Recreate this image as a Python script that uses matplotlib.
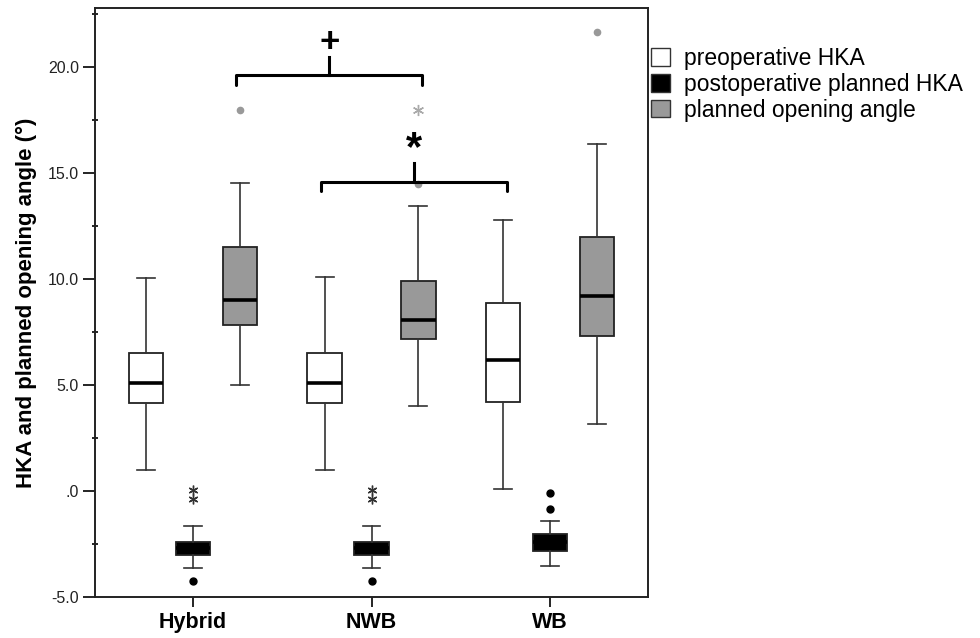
import numpy as np
import matplotlib
matplotlib.use("Agg")
import matplotlib.pyplot as plt
from matplotlib.patches import Patch

plt.rcParams['font.family'] = ['Liberation Sans', 'DejaVu Sans']

groups = ["Hybrid", "NWB", "WB"]
series = ["preoperative HKA", "postoperative planned HKA", "planned opening angle"]

# box stats: whisker low, q1, median, q3, whisker high
pre_lo = [1.0, 1.0, 0.08]
pre_q1 = [4.15, 4.15, 4.2]
pre_med = [5.1, 5.1, 6.2]
pre_q3 = [6.53, 6.53, 8.88]
pre_hi = [10.07, 10.08, 12.8]

post_lo = [-3.62, -3.62, -3.52]
post_q1 = [-3.0, -3.0, -2.83]
post_med = [-2.7, -2.7, -2.4]
post_q3 = [-2.41, -2.41, -2.01]
post_hi = [-1.64, -1.64, -1.4]

open_lo = [5.0, 4.0, 3.18]
open_q1 = [7.85, 7.2, 7.33]
open_med = [9.0, 8.07, 9.21]
open_q3 = [11.5, 9.91, 12.0]
open_hi = [14.55, 13.46, 16.38]

# outliers (circles) and extremes (stars) per group
post_out = [[-4.23], [-4.23], [-0.11, -0.83]]
post_ext = [[0.07, -0.38], [0.07, -0.38], []]
open_out = [[18.0], [14.5], [21.68]]
open_ext = [[], [18.0], []]

# significance brackets: (from series, from group, to series, to group, height, symbol, size)
brackets = [(2, 0, 2, 1, 19.62, "+", 25), (0, 1, 0, 2, 14.59, "*", 30)]

offsets = [-0.263, 0.0, 0.263]
box_w = 0.193
fills = ["white", "black", "#999999"]

fig = plt.figure(figsize=(9.8, 6.38), dpi=100)
ax = fig.add_axes([95/980, 1-597/638, (648-95)/980, (597-8)/638])

def stats(lo, q1, med, q3, hi):
    return [dict(whislo=a, q1=b, med=c, q3=d, whishi=e, fliers=[])
            for a, b, c, d, e in zip(lo, q1, med, q3, hi)]

all_stats = [stats(pre_lo, pre_q1, pre_med, pre_q3, pre_hi),
             stats(post_lo, post_q1, post_med, post_q3, post_hi),
             stats(open_lo, open_q1, open_med, open_q3, open_hi)]

gx = np.arange(len(groups))
for i, st in enumerate(all_stats):
    ax.bxp(st, positions=gx + offsets[i], widths=box_w, patch_artist=True,
           showfliers=False, capwidths=0.1,
           boxprops=dict(facecolor=fills[i], edgecolor="#222222", linewidth=1.3),
           medianprops=dict(color="black", linewidth=2.6),
           whiskerprops=dict(color="#333333", linewidth=1.2),
           capprops=dict(color="#333333", linewidth=1.2))

for g in range(len(groups)):
    x = gx[g] + offsets[1]
    ax.plot([x]*len(post_out[g]), post_out[g], 'o', color="black", ms=5)
    ax.plot([x]*len(post_ext[g]), post_ext[g], marker=(6, 2, 0), ls='none',
            color="#333333", ms=7, mew=1)
    x = gx[g] + offsets[2]
    ax.plot([x]*len(open_out[g]), open_out[g], 'o', color="#999999", ms=4.5)
    ax.plot([x]*len(open_ext[g]), open_ext[g], marker=(6, 2, 0), ls='none',
            color="#aaaaaa", ms=8, mew=1)

for s1, g1, s2, g2, h, sym, fs in brackets:
    x1 = gx[g1] + offsets[s1] - 0.02
    x2 = gx[g2] + offsets[s2] + 0.02
    xm = (x1 + x2) / 2
    ax.plot([x1, x1, x2, x2], [h - 0.45, h, h, h - 0.45], color="black", lw=2.2,
            solid_joinstyle='round', solid_capstyle='round')
    ax.plot([xm, xm], [h, h + 0.88], color="black", lw=2.2)
    ax.text(xm, h + 1.55, sym, ha='center', va='center', fontsize=fs, fontweight='bold')

ax.set_xlim(-0.55, 2.55)
ax.set_ylim(-5, 22.8)
ax.set_xticks(gx)
ax.set_xticklabels(groups, fontsize=15.5, fontweight='bold')
ax.set_yticks([-5, 0, 5, 10, 15, 20])
ax.set_yticklabels(["-5.0", ".0", "5.0", "10.0", "15.0", "20.0"], fontsize=11.5, color="#222222")
ax.set_yticks(np.arange(-2.5, 23, 5), minor=True)
ax.tick_params(axis='y', which='major', direction='out', length=8.6, width=1.2, pad=3)
ax.tick_params(axis='y', which='minor', direction='inout', length=4.3, width=1.2)
ax.tick_params(axis='x', direction='out', length=7, width=1.2, pad=4)
for sp in ax.spines.values():
    sp.set_linewidth(1.4)
    sp.set_color("#222222")

ax.set_ylabel("HKA and planned opening angle (°)", fontsize=16, fontweight='bold')
ax.yaxis.set_label_coords(-0.105, 0.5)

handles = [Patch(facecolor=c, edgecolor="#333333", linewidth=1) for c in fills]
fig.legend(handles, series, loc='upper left', bbox_to_anchor=(651/980, 1-47/638),
           frameon=False, fontsize=16.5, handlelength=0.85, handleheight=0.8,
           handletextpad=0.6, labelspacing=0.12, borderpad=0, borderaxespad=0)

fig.savefig("out.png", dpi=100)
